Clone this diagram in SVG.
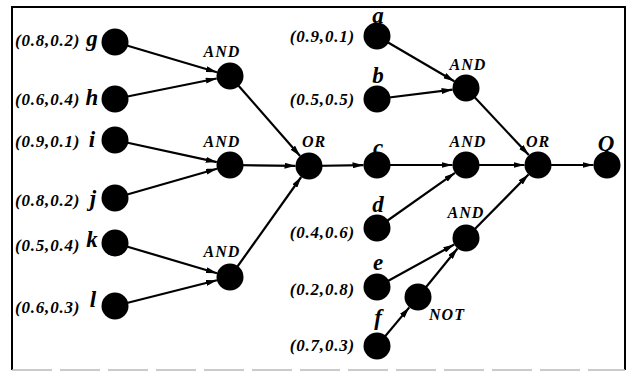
<svg xmlns="http://www.w3.org/2000/svg" width="630" height="372" viewBox="0 0 630 372">
<style>
.e{stroke:#000;stroke-width:2.2;fill:none;marker-end:url(#ah)}
.n{fill:#000}
.p{font-family:"Liberation Serif","Times New Roman",serif;font-style:italic;font-weight:bold;font-size:17px;letter-spacing:0.8px;fill:#000}
.l{font-family:"Liberation Serif","Times New Roman",serif;font-style:italic;font-weight:bold;font-size:23px;fill:#000;text-anchor:middle}
.g{font-family:"Liberation Serif","Times New Roman",serif;font-style:italic;font-weight:bold;font-size:16px;letter-spacing:1px;fill:#000;text-anchor:middle}
</style>
<defs>
<marker id="ah" markerUnits="userSpaceOnUse" markerWidth="11" markerHeight="6" refX="11" refY="3" orient="auto">
<path d="M0,0 L11,3 L0,6 z" fill="#000"/>
</marker>
</defs>
<rect width="630" height="372" fill="#fff"/>
<path d="M12,370 V7 H625 V370" stroke="#000" stroke-width="2" fill="none"/>
<path d="M12,370 H625" stroke="#bbb" stroke-width="1.5" stroke-dasharray="40,8" fill="none"/>
<g id="connectors">
<line class="e" x1="115" y1="42" x2="217" y2="72.2"/>
<line class="e" x1="115" y1="99" x2="216.7" y2="78.5"/>
<line class="e" x1="230" y1="76" x2="300.1" y2="155.9"/>
<line class="e" x1="115" y1="140" x2="216.8" y2="162.1"/>
<line class="e" x1="115" y1="198" x2="217" y2="168.7"/>
<line class="e" x1="230" y1="165" x2="295.5" y2="165.8"/>
<line class="e" x1="115" y1="243" x2="217" y2="273.2"/>
<line class="e" x1="115" y1="306" x2="216.9" y2="280.3"/>
<line class="e" x1="230" y1="277" x2="301.2" y2="177"/>
<line class="e" x1="309" y1="166" x2="363.5" y2="165.2"/>
<line class="e" x1="377" y1="36" x2="454.3" y2="81.2"/>
<line class="e" x1="377" y1="99" x2="452.6" y2="89.7"/>
<line class="e" x1="466" y1="88" x2="528.8" y2="155.1"/>
<line class="e" x1="377" y1="165" x2="452.5" y2="165"/>
<line class="e" x1="377" y1="228" x2="455" y2="172.8"/>
<line class="e" x1="466" y1="165" x2="524.5" y2="165"/>
<line class="e" x1="377" y1="287" x2="454.2" y2="244.5"/>
<line class="e" x1="377" y1="346" x2="409.3" y2="307.4"/>
<line class="e" x1="418" y1="297" x2="457.5" y2="248.5"/>
<line class="e" x1="466" y1="238" x2="528.5" y2="174.6"/>
<line class="e" x1="538" y1="165" x2="593.5" y2="165"/>
</g>
<g id="g"><circle class="n" cx="115" cy="42" r="13.5"/><text class="p" x="15" y="46">(0.8,0.2)</text><text class="l" x="92" y="46">g</text></g>
<g id="h"><circle class="n" cx="115" cy="99" r="13.5"/><text class="p" x="15" y="105">(0.6,0.4)</text><text class="l" x="92" y="105">h</text></g>
<g id="i"><circle class="n" cx="115" cy="140" r="13.5"/><text class="p" x="15" y="147">(0.9,0.1)</text><text class="l" x="92" y="147">i</text></g>
<g id="j"><circle class="n" cx="115" cy="198" r="13.5"/><text class="p" x="15" y="206">(0.8,0.2)</text><text class="l" x="93" y="206">j</text></g>
<g id="k"><circle class="n" cx="115" cy="243" r="13.5"/><text class="p" x="15" y="251">(0.5,0.4)</text><text class="l" x="92" y="247">k</text></g>
<g id="l"><circle class="n" cx="115" cy="306" r="13.5"/><text class="p" x="15" y="313">(0.6,0.3)</text><text class="l" x="93" y="307">l</text></g>
<g id="and1"><circle class="n" cx="230" cy="76" r="13.5"/><text class="g" x="222" y="57">AND</text></g>
<g id="and2"><circle class="n" cx="230" cy="165" r="13.5"/><text class="g" x="222" y="147">AND</text></g>
<g id="and3"><circle class="n" cx="230" cy="277" r="13.5"/><text class="g" x="222" y="257">AND</text></g>
<g id="or1"><circle class="n" cx="309" cy="166" r="13.5"/><text class="g" x="314" y="147">OR</text></g>
<g id="a"><circle class="n" cx="377" cy="36" r="13.5"/><text class="p" x="355" y="42" text-anchor="end">(0.9,0.1)</text><text class="l" x="378" y="23">a</text></g>
<g id="b"><circle class="n" cx="377" cy="99" r="13.5"/><text class="p" x="355" y="105" text-anchor="end">(0.5,0.5)</text><text class="l" x="378" y="83">b</text></g>
<g id="c"><circle class="n" cx="377" cy="165" r="13.5"/><text class="l" x="378" y="155">c</text></g>
<g id="d"><circle class="n" cx="377" cy="228" r="13.5"/><text class="p" x="355" y="238" text-anchor="end">(0.4,0.6)</text><text class="l" x="378" y="212">d</text></g>
<g id="e"><circle class="n" cx="377" cy="287" r="13.5"/><text class="p" x="355" y="295" text-anchor="end">(0.2,0.8)</text><text class="l" x="378" y="270">e</text></g>
<g id="f"><circle class="n" cx="377" cy="346" r="13.5"/><text class="p" x="355" y="351" text-anchor="end">(0.7,0.3)</text><text class="l" x="378" y="325">f</text></g>
<g id="not"><circle class="n" cx="418" cy="297" r="13.5"/><text class="g" x="447" y="320">NOT</text></g>
<g id="and4"><circle class="n" cx="466" cy="88" r="13.5"/><text class="g" x="468" y="70">AND</text></g>
<g id="and5"><circle class="n" cx="466" cy="165" r="13.5"/><text class="g" x="468" y="147">AND</text></g>
<g id="and6"><circle class="n" cx="466" cy="238" r="13.5"/><text class="g" x="466" y="218">AND</text></g>
<g id="or2"><circle class="n" cx="538" cy="165" r="13.5"/><text class="g" x="538" y="147">OR</text></g>
<g id="q"><circle class="n" cx="607" cy="165" r="13.5"/><text class="l" x="606" y="151">Q</text></g>
</svg>
